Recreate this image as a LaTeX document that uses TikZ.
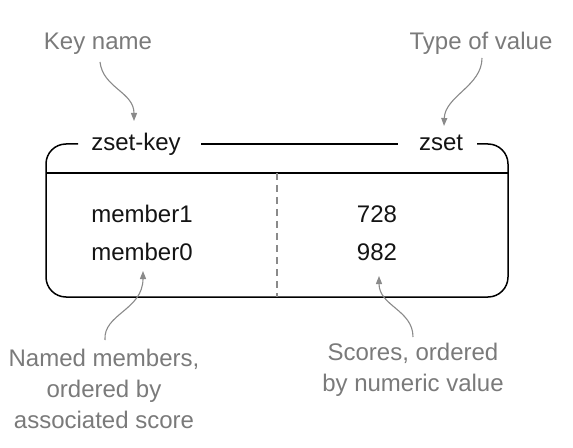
\documentclass[tikz,border=0pt]{standalone}
\usepackage{fontspec}
\setmainfont{Liberation Sans}
\usetikzlibrary{arrows.meta}
\definecolor{lblgray}{RGB}{122,122,122}
\definecolor{arrgray}{RGB}{138,138,138}
\definecolor{txtblack}{RGB}{20,20,20}
\begin{document}
\begin{tikzpicture}[x=1bp,y=-1bp,
  every node/.style={inner sep=0pt,outer sep=0pt},
  lbl/.style={font=\fontsize{24bp}{31bp}\selectfont,text=lblgray,align=center,anchor=base},
  val/.style={font=\fontsize{24bp}{31bp}\selectfont,text=txtblack,anchor=base},
  boxline/.style={draw=black,line width=1.5bp},
  sepline/.style={draw=black,line width=1.2bp},
  dashline/.style={draw=arrgray,line width=1.1bp,dash pattern=on 7bp off 5bp},
  callout/.style={draw=arrgray,line width=1.1bp,-{Triangle[length=8bp,width=6bp]}}]
\useasboundingbox (0,0) rectangle (573,448);

% box
\draw[boxline,rounded corners=20bp] (78,144) -- (46,144) -- (46,297) -- (508,297) -- (508,144) -- (477,144);
\draw[boxline] (201,144) -- (398,144);
\draw[sepline] (46,173) -- (508,173);
\draw[dashline] (277,173) -- (277,297);

% header texts
\node[val] (key) at (136,151) {zset-key};
\node[val] (type) at (441,151) {zset};

% contents
\node[val] (m1) at (142,223) {member1};
\node[val] (m0) at (142,261) {member0};
\node[val] (s1) at (377,223) {728};
\node[val] (s0) at (377,261) {982};

% labels
\node[lbl] (keyname) at (98,50) {Key name};
\node[lbl] (typeval) at (481,50) {Type of value};
\node[lbl] (named) at (104,428) {Named members,\\ordered by\\associated score};
\node[lbl] (scores) at (413,391) {Scores, ordered\\by numeric value};

% callout coordinates
\coordinate (k0) at (100,62);
\coordinate (k1) at (134,121);
\coordinate (t0) at (482,58);
\coordinate (t1) at (444,126);
\coordinate (n0) at (105,340);
\coordinate (n1) at (143,271);
\coordinate (c0) at (413,337);
\coordinate (c1) at (379,276);

\draw[callout] (k0) .. controls (103,88) and (134,92) .. (k1);
\draw[callout] (t0) .. controls (482,86) and (445,96) .. (t1);
\draw[callout] (n0) .. controls (103,314) and (143,310) .. (n1);
\draw[callout] (c0) .. controls (413,310) and (379,306) .. (c1);
\end{tikzpicture}
\end{document}
